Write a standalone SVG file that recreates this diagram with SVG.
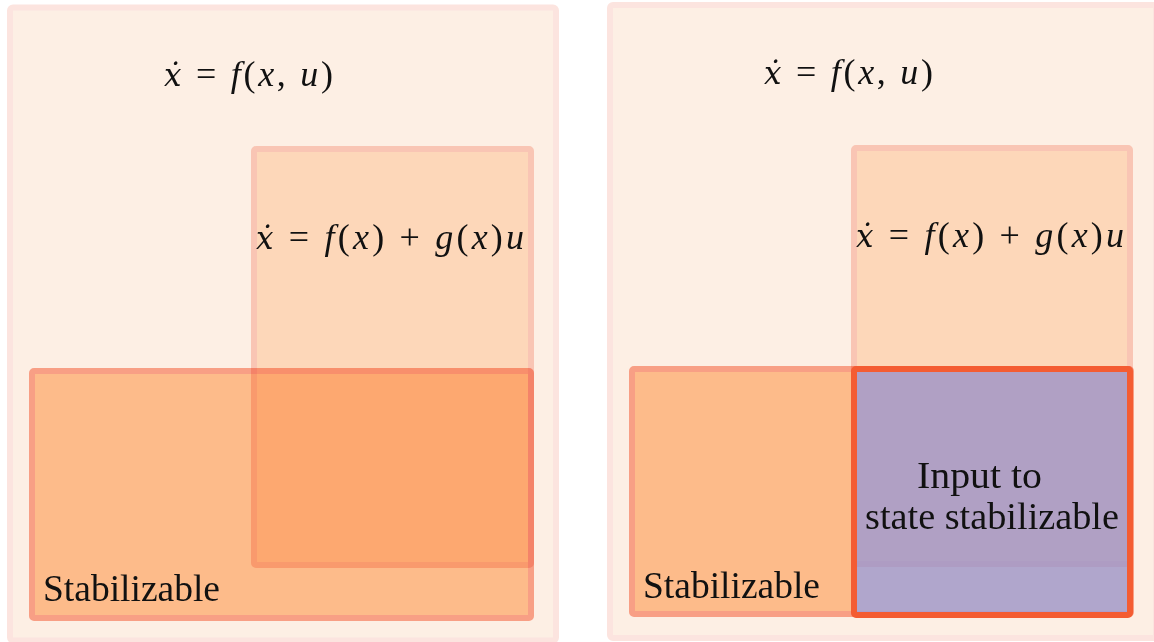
<svg xmlns="http://www.w3.org/2000/svg" width="1154" height="642" viewBox="0 0 1154 642">
<style>
.panel{fill:#FDEFE4;stroke:#FCE4DF;stroke-width:6}
.mid{fill:#FFE6CF;stroke:#FBD3C9;stroke-width:6;mix-blend-mode:multiply}
.stab{fill:#FFC89A;stroke:#FAAA95;stroke-width:6;mix-blend-mode:multiply}
.iss{fill:#8F9DE8;fill-opacity:0.7;stroke:#F45C32;stroke-width:6}
text{font-family:"Liberation Serif",serif;fill:#111}
.eq{font-size:36px}
.lbl{font-size:37px}
.it{font-style:italic}
.dot{font-style:italic;font-family:"DejaVu Serif","Liberation Serif",serif;font-size:31px}
</style>
<rect width="1154" height="642" fill="#FFFFFF"/>
<g id="left-panel" style="isolation:isolate">
  <rect class="panel" x="10" y="7.5" width="546" height="633" rx="3"/>
  <rect id="left-affine" class="mid" x="254" y="149" width="277" height="416" rx="2"/>
  <rect id="left-stabilizable" class="stab" x="32" y="371" width="499" height="247" rx="2"/>
  <text class="eq" x="164" y="86" textLength="169" lengthAdjust="spacing"><tspan class="dot">ẋ</tspan> = <tspan class="it">f</tspan>(<tspan class="it">x</tspan>, <tspan class="it">u</tspan>)</text>
  <text class="eq" x="256" y="249" textLength="268" lengthAdjust="spacing"><tspan class="dot">ẋ</tspan> = <tspan class="it">f</tspan>(<tspan class="it">x</tspan>) + <tspan class="it">g</tspan>(<tspan class="it">x</tspan>)<tspan class="it">u</tspan></text>
  <text class="lbl" x="43" y="601" textLength="177" lengthAdjust="spacingAndGlyphs">Stabilizable</text>
</g>
<g id="right-panel" style="isolation:isolate">
  <rect class="panel" x="610" y="5" width="546" height="633" rx="3"/>
  <rect id="right-affine" class="mid" x="854" y="148" width="276" height="416" rx="2"/>
  <rect id="right-stabilizable" class="stab" x="632" y="369" width="499" height="245" rx="2"/>
  <rect id="right-iss" class="iss" x="854" y="369" width="276" height="246" rx="2"/>
  <text class="eq" x="764" y="84" textLength="169" lengthAdjust="spacing"><tspan class="dot">ẋ</tspan> = <tspan class="it">f</tspan>(<tspan class="it">x</tspan>, <tspan class="it">u</tspan>)</text>
  <text class="eq" x="856" y="247" textLength="268" lengthAdjust="spacing"><tspan class="dot">ẋ</tspan> = <tspan class="it">f</tspan>(<tspan class="it">x</tspan>) + <tspan class="it">g</tspan>(<tspan class="it">x</tspan>)<tspan class="it">u</tspan></text>
  <text class="lbl" x="643" y="598" textLength="177" lengthAdjust="spacingAndGlyphs">Stabilizable</text>
  <text class="lbl" x="917" y="488" textLength="125" lengthAdjust="spacingAndGlyphs">Input to</text>
  <text class="lbl" x="865" y="529" textLength="254" lengthAdjust="spacingAndGlyphs">state stabilizable</text>
</g>
<g id="connectors"/>
</svg>
